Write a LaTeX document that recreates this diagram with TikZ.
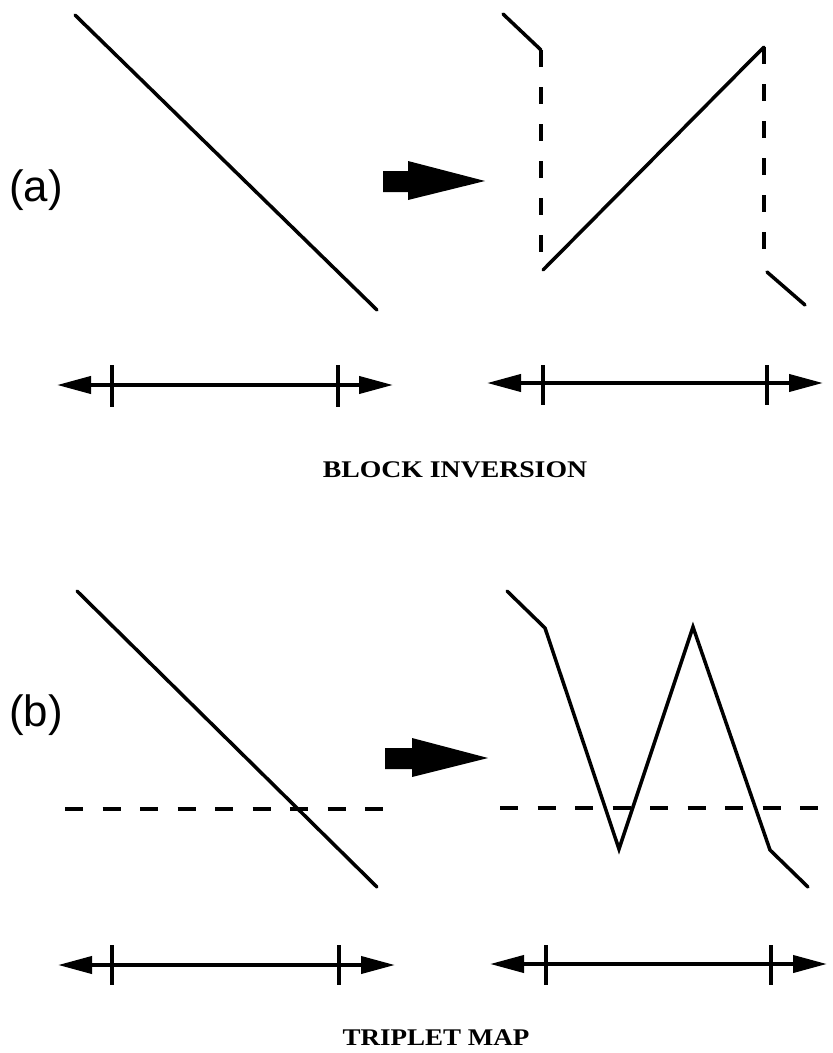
\documentclass[tikz,border=0pt]{standalone}
\usepackage{fontspec}
\setmainfont{Liberation Serif}
\newfontfamily\labfont{Liberation Sans}
\usetikzlibrary{arrows.meta}
\tikzset{
  curve/.style={line width=3.5bp, line cap=round, line join=miter},
  dashv/.style={line width=3.8bp, dash pattern=on 17bp off 20bp},
  dashh/.style={line width=4.2bp, dash pattern=on 18bp off 19.5bp},
  axisline/.style={line width=4bp, {Triangle[length=34bp,width=17bp]}-{Triangle[length=34bp,width=17bp]}},
  tickmark/.style={line width=3.8bp},
  fatarrow/.style={fill=black, draw=none},
  panellabel/.style={font=\labfont\fontsize{44}{50}\selectfont, inner sep=0pt},
  caption/.style={font=\bfseries\fontsize{24}{28}\selectfont, inner sep=0pt},
}
\begin{document}
\begin{tikzpicture}[x=1bp, y=-1bp]
\useasboundingbox (0,0) rectangle (833,1053);

% ---------- panel (a) ----------
\node[panellabel] (la) at (36,190) {(a)};
\coordinate (a1) at (75,15);
\coordinate (a2) at (377,310);
\draw[curve] (a1) -- (a2);

\fill[fatarrow] (383,171) -- (408,171) -- (408,161) -- (485,181) -- (408,200) -- (408,192) -- (383,192) -- cycle;

\coordinate (b1) at (503,14);
\coordinate (b2) at (541,50);
\coordinate (b3) at (541,253);
\coordinate (b4) at (543,270);
\coordinate (b5) at (764,47);
\coordinate (b6) at (764,250);
\coordinate (b7) at (767,272);
\coordinate (b8) at (805,305);
\draw[curve] (b1) -- (b2);
\draw[dashv] (b2) -- (b3);
\draw[curve] (b4) -- (b5);
\draw[dashv] (b5) -- (b6);
\draw[curve] (b7) -- (b8);

% axes (a)
\coordinate (axl1) at (57,385);
\coordinate (axl2) at (393,385);
\draw[axisline] (axl1) -- (axl2);
\draw[tickmark] (112,365) -- (112,407);
\draw[tickmark] (338,365) -- (338,407);

\coordinate (axr1) at (487,383);
\coordinate (axr2) at (823,383);
\draw[axisline] (axr1) -- (axr2);
\draw[tickmark] (543,365) -- (543,405);
\draw[tickmark] (767,365) -- (767,405);

\node[caption] (capa) at (455,470) {\scalebox{1.16}[1]{BLOCK INVERSION}};

% ---------- panel (b) ----------
\node[panellabel] (lb) at (36,715) {(b)};
\coordinate (c1) at (77,591);
\coordinate (c2) at (377,887);
\draw[curve] (c1) -- (c2);
\coordinate (h1) at (65,809);
\coordinate (h2) at (385,809);
\draw[dashh] (h1) -- (h2);

\fill[fatarrow] (385,748) -- (412,748) -- (412,738) -- (488,758) -- (412,777) -- (412,769) -- (385,769) -- cycle;

\coordinate (d1) at (507,591);
\coordinate (d2) at (545,628);
\coordinate (d3) at (619,849);
\coordinate (d4) at (693,627);
\coordinate (d5) at (770,850);
\coordinate (d6) at (808,887);
\draw[curve] (d1) -- (d2) -- (d3) -- (d4) -- (d5) -- (d6);
\coordinate (g1) at (500,808);
\coordinate (g2) at (818,808);
\draw[dashh] (g1) -- (g2);

% axes (b)
\coordinate (bxl1) at (58,965);
\coordinate (bxl2) at (395,965);
\draw[axisline] (bxl1) -- (bxl2);
\draw[tickmark] (112,945) -- (112,985);
\draw[tickmark] (339,945) -- (339,985);

\coordinate (bxr1) at (490,964);
\coordinate (bxr2) at (827,964);
\draw[axisline] (bxr1) -- (bxr2);
\draw[tickmark] (546,945) -- (546,985);
\draw[tickmark] (771,945) -- (771,985);

\node[caption] (capb) at (436,1038) {\scalebox{1.13}[1]{TRIPLET MAP}};
\end{tikzpicture}
\end{document}
